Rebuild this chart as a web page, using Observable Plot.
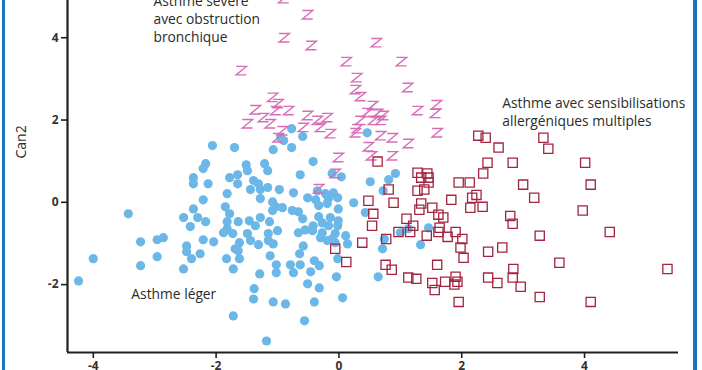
<!DOCTYPE html>
<html>
<head>
<meta charset="utf-8">
<script src="https://cdn.jsdelivr.net/npm/d3@7"></script>
<script src="https://cdn.jsdelivr.net/npm/@observablehq/plot@0.6"></script>
<style>
  html, body { margin: 0; padding: 0; background: #fff; }
  #wrap { position: relative; width: 702px; height: 370px; overflow: hidden; }
  .stripe { position: absolute; top: 0; width: 3px; height: 370px; background: #1c75bc; }
</style>
</head>
<body>
<div id="wrap">
  <div id="chart"></div>
  <div class="stripe" style="left:2px"></div>
  <div class="stripe" style="left:693px; width:4px"></div>
</div>
<script>
// Axis ticks
const xTicks = [-4, -2, 0, 2, 4];
const yTicks = [-2, 0, 2, 4];
const xDomain = [-4.42, 5.53];
const yDomain = [-3.65, 4.905];

// Group 1: Asthme léger (blue circles) [Can1, Can2]
const leger = [[-2.06,1.38],[-1.70,1.33],[-1.07,1.28],[-0.77,1.33],[-0.95,1.57],[-0.90,1.50],[-0.77,1.79],[-0.59,1.60],[-0.42,0.99],[-2.17,0.94],[-2.21,0.82],[-1.51,0.91],[-1.49,0.77],[-1.21,0.94],[-1.16,0.77],[-1.78,0.60],[-1.65,0.67],[-2.37,0.60],[-0.63,0.67],[-0.11,0.70],[0.04,0.62],[-1.39,0.53],[-1.31,0.45],[-2.37,0.45],[-2.13,0.45],[-1.65,0.45],[-1.44,0.31],[-1.28,0.31],[-1.16,0.36],[-0.97,0.31],[-1.82,0.21],[-1.28,0.09],[-2.21,0.06],[-1.08,0.01],[-1.03,-0.11],[-0.92,-0.13],[-1.08,-0.20],[-1.85,-0.11],[-1.78,-0.28],[-2.37,-0.16],[-2.53,-0.37],[-2.30,-0.37],[-2.17,-0.47],[-2.42,-0.59],[-1.82,-0.47],[-1.64,-0.47],[-1.46,-0.45],[-1.28,-0.37],[-1.36,-0.57],[-1.13,-0.47],[-1.82,-0.64],[-1.73,-0.76],[-1.49,-0.76],[-1.00,-0.69],[-2.21,-0.91],[-2.04,-0.96],[-1.44,-0.93],[-1.15,-0.93],[0.51,0.50],[0.92,0.70],[0.81,0.55],[0.72,0.28],[-0.74,0.23],[-0.35,0.28],[-0.51,0.11],[-0.38,0.06],[-0.22,0.21],[-0.17,0.09],[-0.02,0.11],[0.24,-0.01],[-0.33,-0.08],[-0.19,-0.03],[-0.01,-0.16],[-0.76,-0.20],[-0.66,-0.23],[0.43,-0.25],[-0.33,-0.35],[-0.14,-0.37],[-0.01,-0.45],[-0.42,-0.57],[-0.27,-0.50],[-0.17,-0.57],[-0.02,-0.57],[-0.66,-0.74],[-0.55,-0.67],[-0.43,-0.69],[-0.27,-0.74],[-0.06,-0.76],[0.11,-0.81],[0.46,1.69],[-0.06,-0.98],[0.14,-1.01],[-0.02,-1.37],[-0.04,-1.81],[0.06,-2.32],[0.74,-0.89],[0.71,-1.13],[1.00,-0.74],[1.13,-0.64],[1.46,-0.62],[1.33,-1.03],[0.64,-1.81],[-3.43,-0.28],[-4.00,-1.37],[-4.24,-1.91],[-3.23,-0.96],[-3.23,-1.54],[-2.96,-0.91],[-2.86,-0.86],[-2.96,-1.32],[-2.48,-1.06],[-2.48,-1.20],[-2.40,-1.37],[-2.53,-1.62],[-2.26,-1.25],[-1.88,-0.74],[-1.83,-1.37],[-1.72,-1.62],[-1.69,-1.13],[-1.62,-0.98],[-1.64,-1.18],[-1.62,-1.37],[-1.31,-1.03],[-1.07,-1.01],[-1.12,-1.30],[-0.59,-0.40],[-0.64,-1.25],[-0.79,-1.52],[-0.74,-1.71],[-0.58,-1.06],[-0.40,-1.42],[-0.32,-1.54],[-0.51,-1.98],[-0.32,-2.08],[-0.40,-2.42],[-0.56,-2.88],[-1.38,-2.10],[-1.39,-2.35],[-1.07,-2.42],[-0.87,-2.47],[-1.02,-1.52],[-1.02,-1.71],[-0.63,-1.52],[-1.29,-1.74],[-0.46,-1.69],[-1.72,-2.76],[-1.18,-3.37],[-0.11,-0.89],[-0.09,0.23],[-0.30,-0.86],[-0.19,-0.93],[-1.15,-0.76]];

// Group 2: Asthme sévère avec obstruction bronchique (pink Z)
const severe = [[-0.90,4.95],[-0.51,4.56],[-0.89,4.00],[-0.45,3.81],[0.61,3.88],[-1.59,3.20],[0.12,3.42],[1.02,3.42],[0.29,3.03],[1.12,2.79],[0.27,2.74],[0.35,2.57],[-1.08,2.55],[-0.99,2.40],[-1.36,2.25],[-1.03,2.23],[-0.82,2.23],[-1.23,2.06],[-1.49,1.91],[-1.12,1.91],[-0.92,1.74],[-0.51,2.11],[-0.35,1.99],[-0.19,2.06],[-0.58,1.82],[-0.30,1.82],[-0.14,1.67],[0.55,2.35],[0.46,2.18],[0.63,2.16],[0.72,2.11],[0.56,1.99],[0.68,1.99],[0.35,1.99],[0.30,1.79],[1.28,2.23],[1.59,2.37],[1.57,2.16],[1.60,1.69],[0.68,1.62],[0.87,1.57],[1.13,1.43],[0.48,1.35],[0.53,1.13],[-0.99,1.57],[-0.01,1.09],[-0.06,0.70],[-0.33,0.33],[0.87,1.13],[0.27,1.69]];

// Group 3: Asthme avec sensibilisations allergéniques multiples (red squares)
const allergique = [[2.27,1.62],[2.39,1.57],[3.33,1.57],[3.41,1.30],[2.60,1.33],[0.63,0.99],[2.42,0.96],[2.83,0.96],[4.01,0.96],[1.28,0.72],[1.44,0.70],[1.46,0.60],[1.34,0.60],[1.46,0.48],[2.35,0.70],[1.95,0.48],[2.13,0.48],[3.00,0.43],[4.10,0.43],[0.81,0.31],[1.28,0.28],[1.39,0.31],[2.24,0.18],[2.17,0.11],[3.18,0.11],[0.48,0.04],[0.89,-0.01],[1.34,-0.03],[1.83,0.06],[1.31,-0.18],[1.52,-0.13],[2.14,-0.13],[2.34,-0.11],[3.97,-0.20],[0.56,-0.28],[1.10,-0.40],[1.62,-0.30],[1.70,-0.37],[2.79,-0.33],[2.83,-0.52],[0.54,-0.57],[1.21,-0.57],[1.64,-0.62],[0.97,-0.72],[1.16,-0.72],[1.62,-0.72],[1.90,-0.72],[1.43,-0.81],[1.77,-0.84],[2.01,-0.89],[0.77,-0.89],[3.27,-0.81],[4.41,-0.72],[0.38,-0.98],[1.98,-1.10],[2.43,-1.20],[2.66,-1.10],[2.03,-1.35],[3.59,-1.47],[0.76,-1.52],[0.86,-1.64],[1.60,-1.52],[2.84,-1.62],[5.35,-1.62],[1.13,-1.83],[1.26,-1.86],[1.90,-1.81],[2.43,-1.83],[2.58,-1.96],[2.83,-1.83],[1.52,-1.96],[1.73,-1.93],[1.93,-1.93],[1.88,-2.00],[2.96,-2.05],[1.56,-2.13],[3.27,-2.30],[1.95,-2.42],[4.10,-2.42],[-0.06,-1.13],[0.12,-1.45]];

// Annotations (anchor in data units)
const annotations = [
  {x: -3.02, y: 4.47, text: "Asthme sévère\navec obstruction\nbronchique"},
  {x: 2.66, y: 2.22, text: "Asthme avec sensibilisations\nallergéniques multiples"},
  {x: -3.38, y: -2.20, text: "Asthme léger"}
];
const yLabel = "Can2";

const toRows = (arr) => arr.map(([x, y]) => ({x, y}));

// Custom "Z" marker symbol
const zSymbol = {
  draw(ctx, size) {
    const r = Math.sqrt(size / Math.PI);
    const hw = r * 1.1, hh = r * 0.9;
    ctx.moveTo(-hw, -hh);
    ctx.lineTo(hw, -hh);
    ctx.lineTo(-hw, hh);
    ctx.lineTo(hw, hh);
  }
};

const font = "'Open Sans', 'Noto Sans', sans-serif";
const fmt = (d) => String(d);

const chart = Plot.plot({
  width: 702,
  height: 370,
  marginLeft: 67,
  marginRight: 24,
  marginTop: 0,
  marginBottom: 18,
  style: {fontFamily: font, fontSize: "12px", color: "#333", background: "transparent"},
  x: {domain: xDomain},
  y: {domain: yDomain},
  marks: [
    Plot.dot(toRows(leger), {x: "x", y: "y", r: 4.6, fill: "#6bb7e7", stroke: "none"}),
    Plot.dot(toRows(severe), {x: "x", y: "y", r: 4.7, symbol: zSymbol, fill: "none", stroke: "#d86db7", strokeWidth: 1.4}),
    Plot.dot(toRows(allergique), {x: "x", y: "y", r: 5.2, symbol: "square", fill: "none", stroke: "#a3243f", strokeWidth: 1.3}),
    Plot.ruleX([xDomain[0]], {stroke: "#1e1e1e", strokeWidth: 2.2}),
    Plot.ruleY([yDomain[0]], {stroke: "#1e1e1e", strokeWidth: 2.2}),
    Plot.axisX(xTicks, {tickSize: 6, tickPadding: 3, tickFormat: fmt, stroke: "#1e1e1e", strokeWidth: 1.6, fill: "#333", fontWeight: "bold", label: null}),
    Plot.axisY(yTicks, {tickSize: 6, tickPadding: 3, tickFormat: fmt, stroke: "#1e1e1e", strokeWidth: 1.6, fill: "#333", fontWeight: "bold", label: null}),
    Plot.text(annotations, {x: "x", y: "y", text: "text", textAnchor: "start", lineAnchor: "middle", fontSize: 13.8, lineHeight: 1.3, fill: "#2b2b2b", fontWeight: "normal"}),
    Plot.text([yLabel], {frameAnchor: "left", rotate: -90, dx: -46, dy: -18, fontSize: 14, fill: "#2b2b2b"})
  ]
});
document.getElementById("chart").appendChild(chart);
</script>
</body>
</html>
